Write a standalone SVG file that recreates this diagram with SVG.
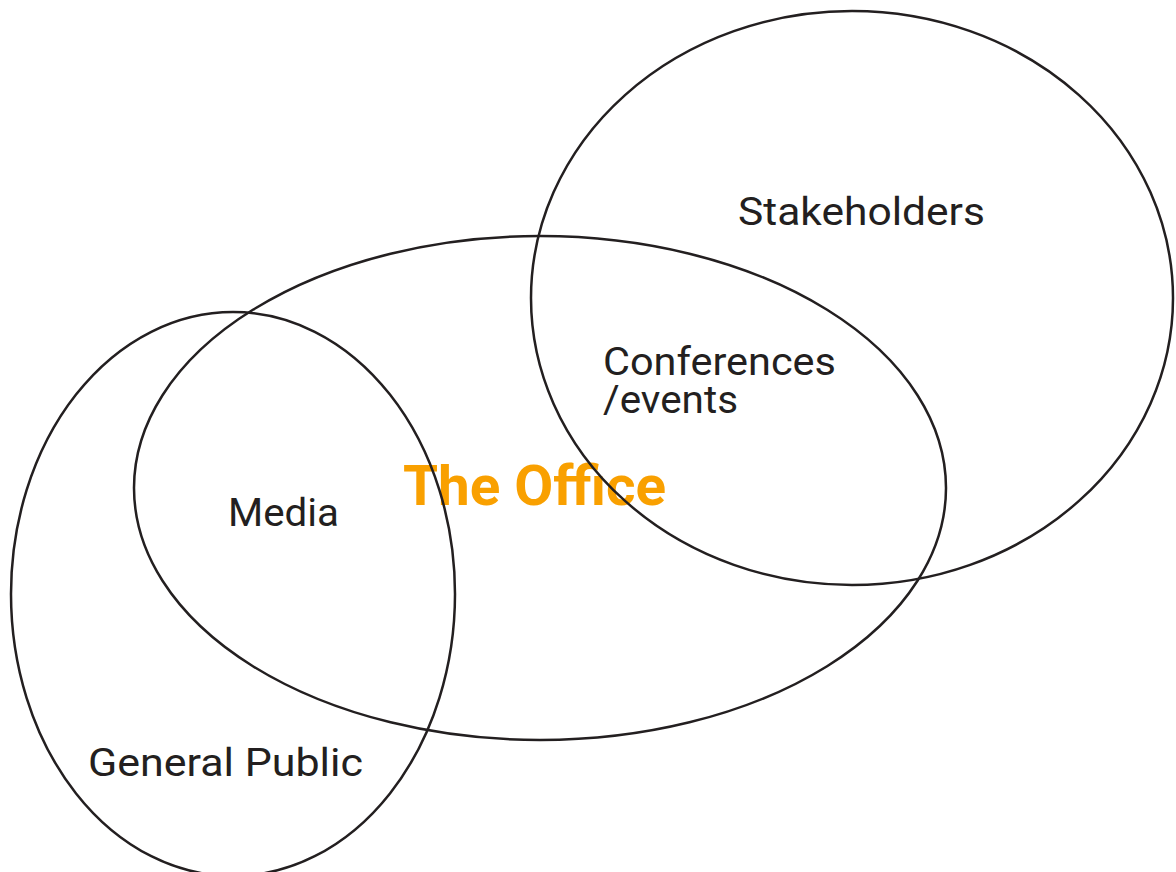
<svg xmlns="http://www.w3.org/2000/svg" width="1176" height="872" viewBox="0 0 1176 872">
<style>
.e{fill:none;stroke:#231f20;stroke-width:2.5}
.t{font-family:Roboto,"Liberation Sans",sans-serif;fill:#231f20;font-size:39px}
.o{font-family:Roboto,"Liberation Sans",sans-serif;fill:#f9a000;font-size:56px;font-weight:bold}
</style>
<rect width="1176" height="872" fill="#ffffff"/>
<g id="connectors"></g>
<g id="office">
<ellipse class="e" cx="540" cy="488" rx="406" ry="252"/>
<text class="o" x="403" y="505" textLength="263" lengthAdjust="spacingAndGlyphs">The Office</text>
</g>
<g id="stakeholders">
<ellipse class="e" cx="852" cy="298" rx="321" ry="287"/>
<text class="t" x="738" y="225" textLength="247" lengthAdjust="spacingAndGlyphs">Stakeholders</text>
<text class="t"><tspan x="603" y="375" textLength="233" lengthAdjust="spacingAndGlyphs">Conferences</tspan><tspan x="603" y="413" textLength="135" lengthAdjust="spacingAndGlyphs">/events</tspan></text>
</g>
<g id="general-public">
<ellipse class="e" cx="233" cy="594" rx="222" ry="282"/>
<text class="t" x="228" y="526" textLength="111" lengthAdjust="spacingAndGlyphs">Media</text>
<text class="t" x="88" y="776" textLength="275" lengthAdjust="spacingAndGlyphs">General Public</text>
</g>
</svg>
